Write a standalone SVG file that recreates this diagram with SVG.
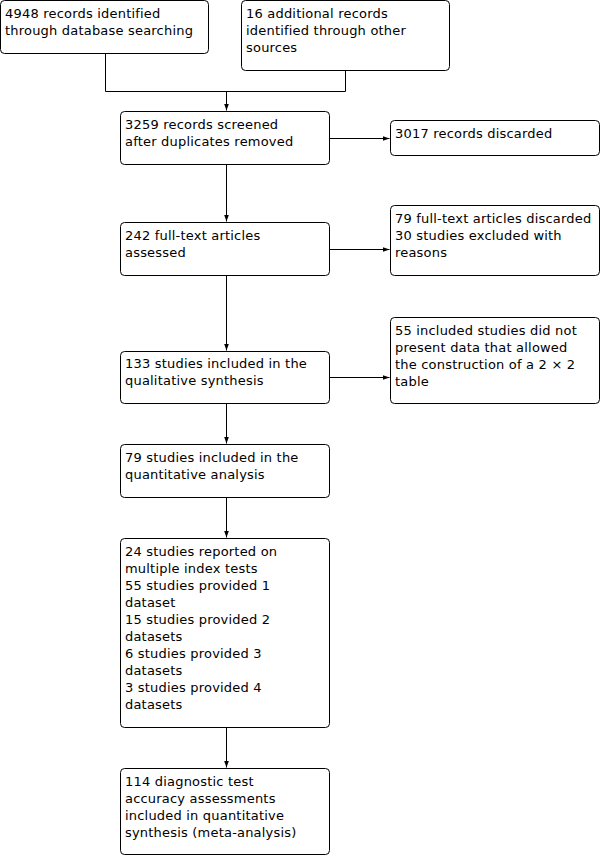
<svg xmlns="http://www.w3.org/2000/svg" width="603" height="856" viewBox="0 0 603 856">
<style>
rect.b{fill:#fff;stroke:#000;stroke-width:1}
text{font-family:"DejaVu Sans",Verdana,sans-serif;font-size:13px;letter-spacing:0.2px;fill:#000}
.c{fill:none;stroke:#000;stroke-width:1}
</style>
<defs>
<marker id="ah" markerWidth="8" markerHeight="6" refX="7" refY="3" orient="auto" markerUnits="userSpaceOnUse">
<path d="M0,0.5 L7,3 L0,5.5 Z" fill="#000"/>
</marker>
</defs>
<rect width="603" height="856" fill="#fff"/>
<g id="connectors">
<path class="c" d="M105.5,53.5 V91.5 H345.5 V70.5"/>
<path class="c" d="M226.5,91.5 V110.5" marker-end="url(#ah)"/>
<path class="c" d="M329.5,138.5 H389.5" marker-end="url(#ah)"/>
<path class="c" d="M226.5,164.5 V221.5" marker-end="url(#ah)"/>
<path class="c" d="M329.5,249.5 H389.5" marker-end="url(#ah)"/>
<path class="c" d="M226.5,275.5 V350.5" marker-end="url(#ah)"/>
<path class="c" d="M329.5,377.5 H389.5" marker-end="url(#ah)"/>
<path class="c" d="M226.5,403.5 V443.5" marker-end="url(#ah)"/>
<path class="c" d="M226.5,497.5 V537.5" marker-end="url(#ah)"/>
<path class="c" d="M226.5,727.5 V767.5" marker-end="url(#ah)"/>
</g>
<g id="n1"><rect class="b" x="0.5" y="0.5" width="208" height="53" rx="4"/>
<text x="5" y="18">4948 records identified</text><text x="5" y="35">through database searching</text></g>
<g id="n2"><rect class="b" x="241.5" y="0.5" width="208" height="70" rx="4"/>
<text x="246" y="18">16 additional records</text><text x="246" y="35">identified through other</text><text x="246" y="52">sources</text></g>
<g id="n3"><rect class="b" x="120.5" y="111.5" width="209" height="53" rx="4"/>
<text x="125" y="129">3259 records screened</text><text x="125" y="146">after duplicates removed</text></g>
<g id="n4"><rect class="b" x="390.5" y="120.5" width="209" height="35" rx="4"/>
<text x="395" y="138">3017 records discarded</text></g>
<g id="n5"><rect class="b" x="120.5" y="222.5" width="209" height="53" rx="4"/>
<text x="125" y="240">242 full-text articles</text><text x="125" y="257">assessed</text></g>
<g id="n6"><rect class="b" x="390.5" y="205.5" width="209" height="70" rx="4"/>
<text x="395" y="223">79 full-text articles discarded</text><text x="395" y="240">30 studies excluded with</text><text x="395" y="257">reasons</text></g>
<g id="n7"><rect class="b" x="120.5" y="351.5" width="209" height="52" rx="4"/>
<text x="125" y="368">133 studies included in the</text><text x="125" y="385">qualitative synthesis</text></g>
<g id="n8"><rect class="b" x="390.5" y="317.5" width="209" height="86" rx="4"/>
<text x="395" y="335">55 included studies did not</text><text x="395" y="352">present data that allowed</text><text x="395" y="369">the construction of a 2 × 2</text><text x="395" y="386">table</text></g>
<g id="n9"><rect class="b" x="120.5" y="444.5" width="209" height="53" rx="4"/>
<text x="125" y="462">79 studies included in the</text><text x="125" y="479">quantitative analysis</text></g>
<g id="n10"><rect class="b" x="120.5" y="538.5" width="209" height="189" rx="4"/>
<text x="125" y="556">24 studies reported on</text><text x="125" y="573">multiple index tests</text><text x="125" y="590">55 studies provided 1</text><text x="125" y="607">dataset</text><text x="125" y="624">15 studies provided 2</text><text x="125" y="641">datasets</text><text x="125" y="658">6 studies provided 3</text><text x="125" y="675">datasets</text><text x="125" y="692">3 studies provided 4</text><text x="125" y="709">datasets</text></g>
<g id="n11"><rect class="b" x="120.5" y="768.5" width="209" height="86" rx="4"/>
<text x="125" y="786">114 diagnostic test</text><text x="125" y="803">accuracy assessments</text><text x="125" y="820">included in quantitative</text><text x="125" y="837">synthesis (meta-analysis)</text></g>
</svg>
